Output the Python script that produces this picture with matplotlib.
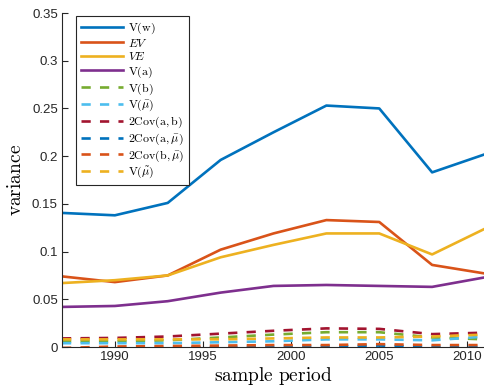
import matplotlib
matplotlib.use('Agg')
from matplotlib import pyplot as plt
from matplotlib.ticker import FuncFormatter

# sample years (every three years)
years = [1987, 1990, 1993, 1996, 1999, 2002, 2005, 2008, 2011]

# solid series
v_w = [0.1405, 0.138, 0.151, 0.196, 0.225, 0.253, 0.250, 0.183, 0.202]
ev = [0.074, 0.068, 0.075, 0.102, 0.119, 0.133, 0.131, 0.086, 0.077]
ve = [0.067, 0.070, 0.075, 0.094, 0.107, 0.119, 0.119, 0.097, 0.124]
v_a = [0.042, 0.043, 0.048, 0.057, 0.064, 0.065, 0.064, 0.063, 0.073]

# dashed series
v_b = [0.006, 0.006, 0.007, 0.010, 0.013, 0.0155, 0.0155, 0.010, 0.008]
v_mubar = [0.004, 0.004, 0.004, 0.005, 0.006, 0.008, 0.008, 0.007, 0.011]
cov_ab = [0.009, 0.0095, 0.011, 0.014, 0.017, 0.0195, 0.019, 0.0135, 0.015]
cov_amu = [-0.002, -0.002, -0.001, 0.0, 0.0, 0.0005, 0.0015, 0.0, 0.0]
cov_bmu = [-0.001, 0.0005, 0.001, 0.0015, 0.002, 0.002, 0.003, 0.002, 0.002]
v_mutilde = [0.008, 0.008, 0.008, 0.008, 0.009, 0.010, 0.010, 0.011, 0.013]

plt.rcParams['mathtext.fontset'] = 'cm'
plt.rcParams['font.family'] = ['Liberation Sans', 'DejaVu Sans']

cols = ['#0072BD', '#D95319', '#EDB120', '#7E2F8E', '#77AC30', '#4DBEEE', '#A2142F']
axcol = '#262626'

fig = plt.figure(figsize=(4.85, 3.88), dpi=100)
ax = fig.add_axes([62 / 485, 41 / 388, 423 / 485, 334 / 388])

solid = [(v_w, r'$\mathrm{V(w)}$'), (ev, r'$EV$'), (ve, r'$VE$'), (v_a, r'$\mathrm{V(a)}$')]
for i, (s, lab) in enumerate(solid):
    ax.plot(years, s, color=cols[i], lw=1.9, label=lab)

dashed = [(v_b, r'$\mathrm{V(b)}$', cols[4]),
          (v_mubar, r'$\mathrm{V(}\bar{\mu}\mathrm{)}$', cols[5]),
          (cov_ab, r'$\mathrm{2Cov(a,b)}$', cols[6]),
          (cov_amu, r'$\mathrm{2Cov(a,}\bar{\mu}\mathrm{)}$', cols[0]),
          (cov_bmu, r'$\mathrm{2Cov(b,}\bar{\mu}\mathrm{)}$', cols[1]),
          (v_mutilde, r'$\mathrm{V(}\tilde{\mu}\mathrm{)}$', cols[2])]
for s, lab, c in dashed:
    ax.plot(years, s, color=c, lw=1.9, ls=(0, (3.5, 3.5)), label=lab)

ax.set_xlim(1987, 2011)
ax.set_ylim(0, 0.35)
ax.set_xticks([1990, 1995, 2000, 2005, 2010])
ax.set_yticks([0, 0.05, 0.1, 0.15, 0.2, 0.25, 0.3, 0.35])
ax.yaxis.set_major_formatter(FuncFormatter(lambda v, p: '%g' % round(v, 2)))
ax.tick_params(direction='in', length=4, width=0.8, colors=axcol, labelsize=9.5, pad=3)
ax.spines['top'].set_visible(False)
ax.spines['right'].set_visible(False)
for sp in ['left', 'bottom']:
    ax.spines[sp].set_color(axcol)
    ax.spines[sp].set_linewidth(0.8)

ax.set_xlabel(r'$\mathrm{sample\ period}$', fontsize=14, labelpad=1)
ax.set_ylabel(r'$\mathrm{variance}$', fontsize=14, labelpad=5)

leg = ax.legend(loc='upper left', bbox_to_anchor=(14 / 423, 331 / 334), fontsize=8.6,
                handlelength=3.5, handletextpad=0.45, labelspacing=0.12,
                fancybox=False, framealpha=1, borderpad=0.4, borderaxespad=0)
leg.get_frame().set_edgecolor(axcol)
leg.get_frame().set_linewidth(0.8)

fig.savefig('out.png', dpi=100)
plt.close(fig)
